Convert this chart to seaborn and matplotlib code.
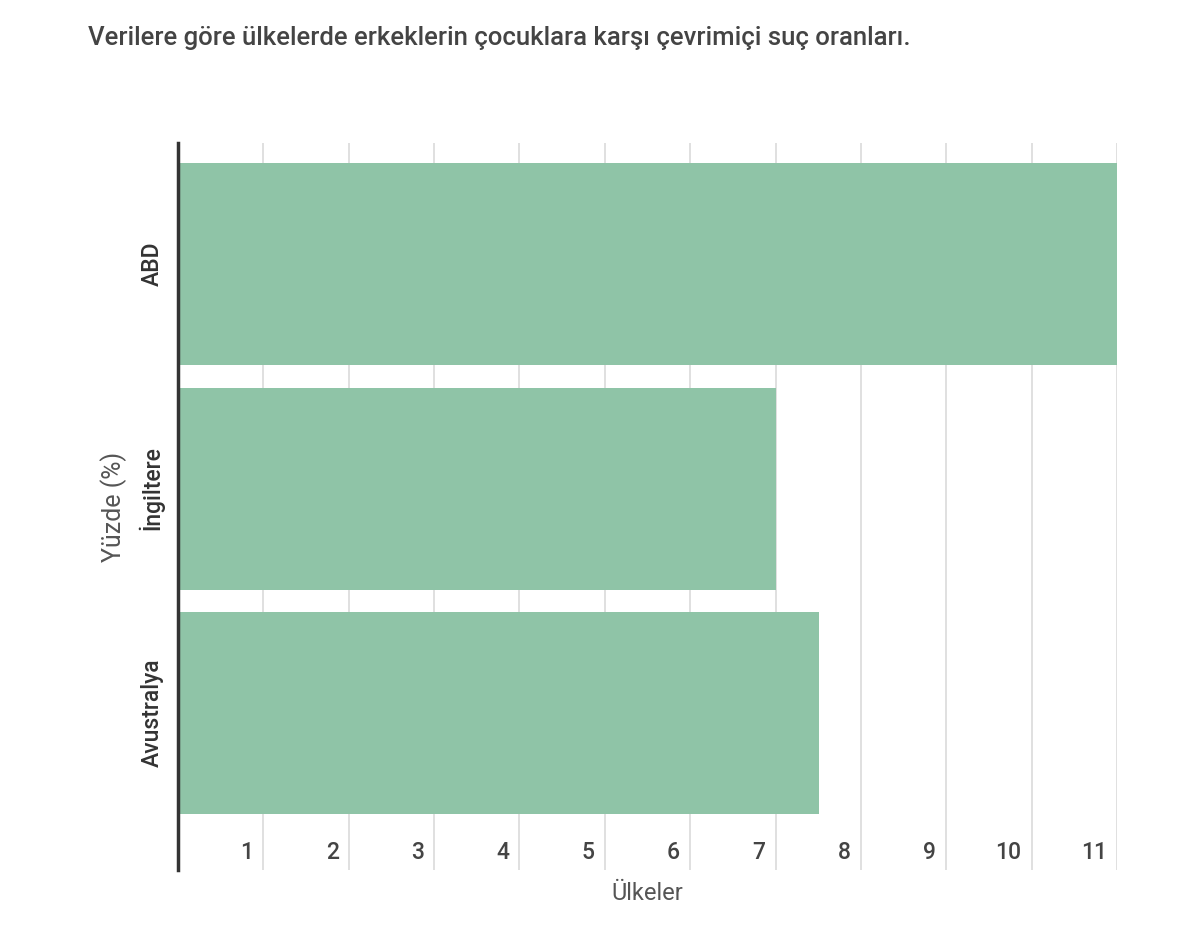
import matplotlib
matplotlib.use("Agg")
import matplotlib.pyplot as plt
import seaborn as sns
import pandas as pd
from matplotlib.transforms import ScaledTranslation

# data
countries = ["ABD", "İngiltere", "Avustralya"]
rates = [11.0, 7.01, 7.51]
x_ticks = [1, 2, 3, 4, 5, 6, 7, 8, 9, 10, 11]

TITLE = "Verilere göre ülkelerde erkeklerin çocuklara karşı çevrimiçi suç oranları."

sns.set_style("white")
plt.rcParams['font.family'] = ['Roboto', 'DejaVu Sans']

df = pd.DataFrame({"country": countries, "rate": rates})

fig = plt.figure(figsize=(12, 9.35), dpi=100)
ax = fig.add_axes([178 / 1200, 1 - 870 / 935, (1117 - 178) / 1200, (870 - 143) / 935])

sns.barplot(data=df, y="country", x="rate", orient="h", color="#8fc4a7",
            saturation=1, width=0.9, linewidth=0, ax=ax)

ax.set_xlim(0, 11)
ax.set_ylim(2.70, -0.54)

# vertical grid
ax.set_xticks(x_ticks)
ax.xaxis.grid(True, color="#dddddd", linewidth=1.3)
ax.set_axisbelow(True)

for side in ["top", "right", "bottom"]:
    ax.spines[side].set_visible(False)
ax.spines["left"].set_color("#333333")
ax.spines["left"].set_linewidth(2.5)

# tick labels sit inside the plot, left of each grid line
ax.tick_params(axis="x", length=0, labelsize=16.5, labelcolor="#444444", pad=0)
off = ScaledTranslation(-0.1, 0.06, fig.dpi_scale_trans)
for lab in ax.get_xticklabels():
    lab.set_horizontalalignment("right")
    lab.set_verticalalignment("bottom")
    lab.set_fontweight("medium")
    lab.set_transform(lab.get_transform() + off)

ax.tick_params(axis="y", length=0, labelsize=16.5, labelcolor="#333333", pad=10)
for lab in ax.get_yticklabels():
    lab.set_rotation(90)
    lab.set_verticalalignment("center")
    lab.set_fontweight("medium")

ax.set_xlabel("Ülkeler", fontsize=17, color="#555555", labelpad=9)
ax.set_ylabel("Yüzde (%)", fontsize=18, color="#555555", labelpad=8)

fig.text(88 / 1200, 1 - 38 / 935, TITLE, fontsize=18.5, fontweight="medium",
         color="#444444", ha="left", va="center")

fig.savefig("out.png", dpi=100, facecolor="white")
